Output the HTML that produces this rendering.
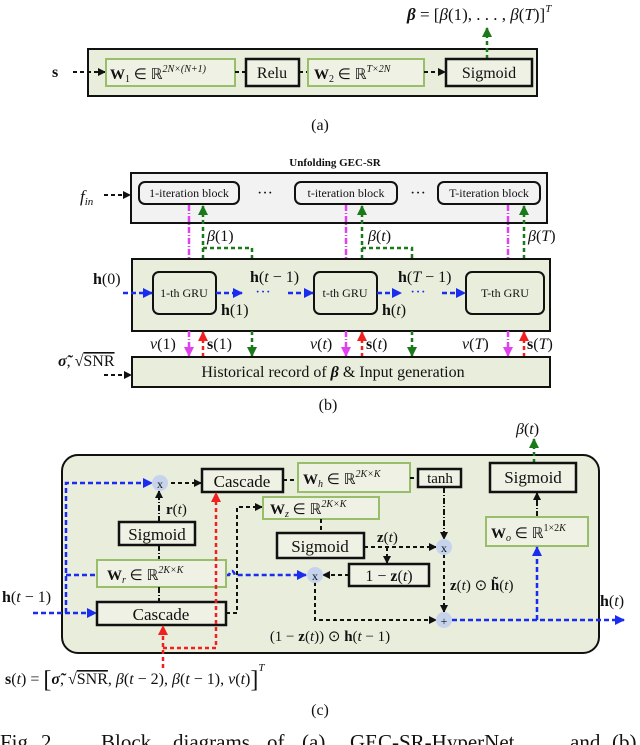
<!DOCTYPE html>
<html><head><meta charset="utf-8"><style>
body{margin:0;background:#fff}
svg{display:block;font-family:"Liberation Serif",serif}
.g{fill:#e9eddc}
.gb{fill:#eef1e3;stroke:#98be6a;stroke-width:2}
.bb{fill:#eef1e3;stroke:#111;stroke-width:2.5}
.k{stroke:#111;stroke-width:2;stroke-dasharray:4 3;fill:none}
.kd{stroke:#111;stroke-width:2;stroke-dasharray:6 2 1 2;fill:none}
.bl{stroke:#1a2cf0;stroke-width:2.5;stroke-dasharray:5 3;fill:none}
.rd{stroke:#f02020;stroke-width:2.5;stroke-dasharray:4 3;fill:none}
.gr{stroke:#1a7a1a;stroke-width:2.5;stroke-dasharray:4 3;fill:none}
.mg{stroke:#e040f0;stroke-width:2.5;stroke-dasharray:6 2 1 2;fill:none}
.c{fill:#c6d3ec}
text{fill:#111}
</style></head><body>
<svg width="640" height="745" viewBox="0 0 640 745">
<defs>
<marker id="ak" markerWidth="8" markerHeight="8" refX="7" refY="4" orient="auto" markerUnits="userSpaceOnUse"><path d="M0,0L8,4L0,8z" fill="#111"/></marker>
<marker id="ab" markerWidth="10" markerHeight="10" refX="9" refY="5" orient="auto" markerUnits="userSpaceOnUse"><path d="M0,0L10,5L0,10z" fill="#1a2cf0"/></marker>
<marker id="ar" markerWidth="10" markerHeight="10" refX="9" refY="5" orient="auto" markerUnits="userSpaceOnUse"><path d="M0,0L10,5L0,10z" fill="#f02020"/></marker>
<marker id="ag" markerWidth="10" markerHeight="10" refX="9" refY="5" orient="auto" markerUnits="userSpaceOnUse"><path d="M0,0L10,5L0,10z" fill="#1a7a1a"/></marker>
<marker id="am" markerWidth="10" markerHeight="10" refX="9" refY="5" orient="auto" markerUnits="userSpaceOnUse"><path d="M0,0L10,5L0,10z" fill="#e040f0"/></marker>
</defs>

<!-- (a) -->
<text x="407" y="20" font-size="17"><tspan font-weight="bold" font-style="italic">β</tspan> = [<tspan font-style="italic">β</tspan>(1), . . . , <tspan font-style="italic">β</tspan>(<tspan font-style="italic">T</tspan>)]<tspan font-size="11" dy="-8" font-style="italic">T</tspan></text>
<rect x="88" y="49" width="449" height="47" class="g" stroke="#111" stroke-width="2"/>
<line x1="487" y1="59" x2="487" y2="28" class="gr" marker-end="url(#ag)"/>
<text x="52" y="77" font-size="16" font-weight="bold">s</text>
<line x1="73" y1="72" x2="105" y2="72" class="k" marker-end="url(#ak)"/>
<rect x="106" y="59" width="129" height="27" class="gb"/>
<text x="110" y="79" font-size="15"><tspan font-weight="bold">W</tspan><tspan font-size="10" dy="3">1</tspan><tspan dy="-3"> ∈ ℝ</tspan><tspan font-size="10" dy="-7" font-style="italic">2N×(N+1)</tspan></text>
<line x1="235" y1="72" x2="246" y2="72" class="k"/>
<rect x="246" y="59" width="53" height="27" class="bb"/>
<text x="272" y="78" font-size="16" text-anchor="middle">Relu</text>
<line x1="299" y1="72" x2="308" y2="72" class="k"/>
<rect x="308" y="59" width="116" height="27" class="gb"/>
<text x="314" y="79" font-size="15"><tspan font-weight="bold">W</tspan><tspan font-size="10" dy="3">2</tspan><tspan dy="-3"> ∈ ℝ</tspan><tspan font-size="10" dy="-7" font-style="italic">T×2N</tspan></text>
<line x1="424" y1="72" x2="445" y2="72" class="k" marker-end="url(#ak)"/>
<rect x="446" y="59" width="86" height="27" class="bb"/>
<text x="489" y="78" font-size="16" text-anchor="middle">Sigmoid</text>
<text x="320" y="130" font-size="16" text-anchor="middle">(a)</text>

<!-- (b) -->
<text x="335" y="166" font-size="11" font-weight="bold" text-anchor="middle">Unfolding GEC-SR</text>
<rect x="131" y="173" width="416" height="50" fill="#f2f2f2" stroke="#111" stroke-width="2"/>
<rect x="139" y="182" width="100" height="22" rx="6" fill="#f2f2f2" stroke="#111" stroke-width="2"/>
<text x="189" y="197" font-size="12" text-anchor="middle">1-iteration block</text>
<rect x="295" y="182" width="102" height="22" rx="6" fill="#f2f2f2" stroke="#111" stroke-width="2"/>
<text x="346" y="197" font-size="12" text-anchor="middle">t-iteration block</text>
<rect x="438" y="182" width="102" height="22" rx="6" fill="#f2f2f2" stroke="#111" stroke-width="2"/>
<text x="489" y="197" font-size="12" text-anchor="middle">T-iteration block</text>
<text x="265" y="198" font-size="16" text-anchor="middle">···</text>
<text x="418" y="198" font-size="16" text-anchor="middle">···</text>
<text x="80" y="202" font-size="17" font-style="italic">f<tspan font-size="11" dy="3">in</tspan></text>
<line x1="104" y1="195" x2="130" y2="195" class="k" marker-end="url(#ak)"/>

<g>
<line x1="189" y1="205" x2="189" y2="259" class="mg"/>
<line x1="346" y1="205" x2="346" y2="259" class="mg"/>
<line x1="508" y1="205" x2="508" y2="259" class="mg"/>
<line x1="203" y1="259" x2="203" y2="206" class="gr" marker-end="url(#ag)"/>
<line x1="362" y1="259" x2="362" y2="206" class="gr" marker-end="url(#ag)"/>
<line x1="524" y1="259" x2="524" y2="206" class="gr" marker-end="url(#ag)"/>
<polyline points="203,248 252,248 252,259" class="gr"/>
<polyline points="362,248 412,248 412,259" class="gr"/>
</g>
<text x="207" y="241" font-size="16"><tspan font-style="italic">β</tspan>(1)</text>
<text x="368" y="241" font-size="16"><tspan font-style="italic">β</tspan>(<tspan font-style="italic">t</tspan>)</text>
<text x="528" y="241" font-size="16"><tspan font-style="italic">β</tspan>(<tspan font-style="italic">T</tspan>)</text>

<rect x="132" y="259" width="418" height="72" class="g" stroke="#111" stroke-width="2"/>
<rect x="153" y="272" width="63" height="42" rx="6" class="g" stroke="#111" stroke-width="2"/>
<text x="184" y="297" font-size="12" text-anchor="middle">1-th GRU</text>
<rect x="314" y="272" width="63" height="42" rx="6" class="g" stroke="#111" stroke-width="2"/>
<text x="345" y="297" font-size="12" text-anchor="middle">t-th GRU</text>
<rect x="466" y="272" width="78" height="42" rx="6" class="g" stroke="#111" stroke-width="2"/>
<text x="505" y="297" font-size="12" text-anchor="middle">T-th GRU</text>
<line x1="123" y1="293" x2="152" y2="293" class="bl" marker-end="url(#ab)"/>
<line x1="216" y1="293" x2="242" y2="293" class="bl" marker-end="url(#ab)"/>
<line x1="288" y1="293" x2="313" y2="293" class="bl" marker-end="url(#ab)"/>
<line x1="377" y1="293" x2="401" y2="293" class="bl" marker-end="url(#ab)"/>
<line x1="442" y1="293" x2="465" y2="293" class="bl" marker-end="url(#ab)"/>
<text x="263" y="297" font-size="16" text-anchor="middle" style="fill:#1a2cf0">···</text>
<text x="418" y="297" font-size="16" text-anchor="middle" style="fill:#1a2cf0">···</text>
<text x="93" y="284" font-size="16"><tspan font-weight="bold">h</tspan>(0)</text>
<text x="250" y="282" font-size="16"><tspan font-weight="bold">h</tspan>(<tspan font-style="italic">t</tspan> − 1)</text>
<text x="398" y="282" font-size="16"><tspan font-weight="bold">h</tspan>(<tspan font-style="italic">T</tspan> − 1)</text>
<text x="221" y="315" font-size="16"><tspan font-weight="bold">h</tspan>(1)</text>
<text x="382" y="315" font-size="16"><tspan font-weight="bold">h</tspan>(<tspan font-style="italic">t</tspan>)</text>

<line x1="189" y1="331" x2="189" y2="356" class="mg" marker-end="url(#am)"/>
<line x1="346" y1="331" x2="346" y2="356" class="mg" marker-end="url(#am)"/>
<line x1="508" y1="331" x2="508" y2="356" class="mg" marker-end="url(#am)"/>
<line x1="203" y1="357" x2="203" y2="332" class="rd" marker-end="url(#ar)"/>
<line x1="362" y1="357" x2="362" y2="332" class="rd" marker-end="url(#ar)"/>
<line x1="524" y1="357" x2="524" y2="332" class="rd" marker-end="url(#ar)"/>
<line x1="252" y1="331" x2="252" y2="356" class="gr" marker-end="url(#ag)"/>
<line x1="412" y1="331" x2="412" y2="356" class="gr" marker-end="url(#ag)"/>
<text x="150" y="349" font-size="16"><tspan font-style="italic">v</tspan>(1)</text>
<text x="310" y="349" font-size="16"><tspan font-style="italic">v</tspan>(<tspan font-style="italic">t</tspan>)</text>
<text x="462" y="349" font-size="16"><tspan font-style="italic">v</tspan>(<tspan font-style="italic">T</tspan>)</text>
<text x="207" y="349" font-size="16"><tspan font-weight="bold">s</tspan>(1)</text>
<text x="366" y="349" font-size="16"><tspan font-weight="bold">s</tspan>(<tspan font-style="italic">t</tspan>)</text>
<text x="527" y="349" font-size="16"><tspan font-weight="bold">s</tspan>(<tspan font-style="italic">T</tspan>)</text>

<rect x="132" y="357" width="418" height="30" class="g" stroke="#111" stroke-width="2"/>
<text x="333" y="377" font-size="16" text-anchor="middle">Historical record of <tspan font-weight="bold" font-style="italic">β</tspan> &amp; Input generation</text>
<text x="58" y="366" font-size="16"><tspan font-weight="bold" font-style="italic">σ̃</tspan>, √<tspan text-decoration="overline">SNR</tspan></text>
<line x1="104" y1="375" x2="131" y2="375" class="k" marker-end="url(#ak)"/>
<text x="328" y="410" font-size="16" text-anchor="middle">(b)</text>

<!-- (c) -->
<rect x="62" y="455" width="537" height="198" rx="16" class="g" stroke="#111" stroke-width="2"/>
<line x1="534" y1="463" x2="534" y2="439" class="gr" marker-end="url(#ag)"/>
<text x="516" y="434" font-size="16"><tspan font-style="italic">β</tspan>(<tspan font-style="italic">t</tspan>)</text>

<text x="2" y="602" font-size="16"><tspan font-weight="bold">h</tspan>(<tspan font-style="italic">t</tspan> − 1)</text>
<line x1="33" y1="613" x2="96" y2="613" class="bl" marker-end="url(#ab)"/>
<polyline points="66,613 66,483 152,483" class="bl" marker-end="url(#ab)"/>
<line x1="66" y1="575" x2="97" y2="575" class="bl"/>
<path d="M226,575 h3 q3,-8 6,0 h6 L306,575" class="bl" marker-end="url(#ab)"/>

<line x1="171" y1="483" x2="201" y2="483" class="k" marker-end="url(#ak)"/>
<rect x="202" y="469" width="81" height="23" class="bb"/>
<text x="242" y="487" font-size="17" text-anchor="middle">Cascade</text>
<line x1="283" y1="480" x2="298" y2="480" class="k"/>
<rect x="298" y="463" width="112" height="29" class="gb"/>
<text x="303" y="484" font-size="15"><tspan font-weight="bold">W</tspan><tspan font-size="10" dy="3" font-style="italic">h</tspan><tspan dy="-3"> ∈ ℝ</tspan><tspan font-size="10" dy="-7" font-style="italic">2K×K</tspan></text>
<line x1="410" y1="478" x2="418" y2="478" class="k"/>
<rect x="418" y="469" width="43" height="18" class="bb"/>
<text x="440" y="483" font-size="15" text-anchor="middle">tanh</text>
<line x1="444" y1="487" x2="444" y2="539" class="kd" marker-end="url(#ak)"/>

<rect x="490" y="463" width="86" height="29" class="bb"/>
<text x="533" y="483" font-size="17" text-anchor="middle">Sigmoid</text>
<line x1="537" y1="517" x2="537" y2="493" class="kd" marker-end="url(#ak)"/>
<rect x="486" y="517" width="102" height="29" class="gb"/>
<text x="491" y="538" font-size="15"><tspan font-weight="bold">W</tspan><tspan font-size="10" dy="3" font-style="italic">o</tspan><tspan dy="-3"> ∈ ℝ</tspan><tspan font-size="10" dy="-7">1×2</tspan><tspan font-size="10" font-style="italic">K</tspan></text>

<line x1="159" y1="522" x2="159" y2="491" class="kd" marker-end="url(#ak)"/>
<text x="166" y="514" font-size="15"><tspan font-weight="bold">r</tspan>(<tspan font-style="italic">t</tspan>)</text>
<rect x="119" y="522" width="76" height="23" class="bb"/>
<text x="157" y="540" font-size="17" text-anchor="middle">Sigmoid</text>
<line x1="159" y1="545" x2="159" y2="560" class="kd"/>
<rect x="97" y="560" width="129" height="27" class="gb"/>
<text x="107" y="580" font-size="15"><tspan font-weight="bold">W</tspan><tspan font-size="10" dy="3" font-style="italic">r</tspan><tspan dy="-3"> ∈ ℝ</tspan><tspan font-size="10" dy="-7" font-style="italic">2K×K</tspan></text>
<line x1="159" y1="587" x2="159" y2="602" class="kd"/>
<rect x="97" y="602" width="129" height="23" class="bb"/>
<text x="161" y="620" font-size="17" text-anchor="middle">Cascade</text>

<line x1="163" y1="668" x2="163" y2="626" class="rd" marker-end="url(#ar)"/>
<polyline points="163,648 216,648 216,493" class="rd" marker-end="url(#ar)"/>

<polyline points="226,613 237,613 237,507 262,507" class="k" marker-end="url(#ak)"/>
<rect x="263" y="497" width="116" height="22" class="gb"/>
<text x="270" y="514" font-size="15"><tspan font-weight="bold">W</tspan><tspan font-size="10" dy="3" font-style="italic">z</tspan><tspan dy="-3"> ∈ ℝ</tspan><tspan font-size="10" dy="-7" font-style="italic">2K×K</tspan></text>
<line x1="321" y1="519" x2="321" y2="533" class="k"/>
<rect x="277" y="533" width="87" height="25" class="bb"/>
<text x="320" y="552" font-size="17" text-anchor="middle">Sigmoid</text>
<line x1="364" y1="547" x2="436" y2="547" class="k" marker-end="url(#ak)"/>
<text x="377" y="542" font-size="15"><tspan font-weight="bold">z</tspan>(<tspan font-style="italic">t</tspan>)</text>
<line x1="387" y1="547" x2="387" y2="563" class="k" marker-end="url(#ak)"/>
<rect x="349" y="564" width="80" height="22" class="bb"/>
<text x="389" y="581" font-size="16" text-anchor="middle">1 − <tspan font-weight="bold">z</tspan>(<tspan font-style="italic">t</tspan>)</text>
<line x1="349" y1="575" x2="323" y2="575" class="k" marker-end="url(#ak)"/>
<polyline points="315,582 315,620 436,620" class="k" marker-end="url(#ak)"/>
<line x1="444" y1="554" x2="444" y2="612" class="k" marker-end="url(#ak)"/>
<text x="450" y="590" font-size="15"><tspan font-weight="bold">z</tspan>(<tspan font-style="italic">t</tspan>) ⊙ <tspan font-weight="bold">h̃</tspan>(<tspan font-style="italic">t</tspan>)</text>
<text x="330" y="641" font-size="15" text-anchor="middle">(1 − <tspan font-weight="bold">z</tspan>(<tspan font-style="italic">t</tspan>)) ⊙ <tspan font-weight="bold">h</tspan>(<tspan font-style="italic">t</tspan> − 1)</text>

<line x1="452" y1="620" x2="624" y2="620" class="bl" marker-end="url(#ab)"/>
<line x1="537" y1="620" x2="537" y2="547" class="bl" marker-end="url(#ab)"/>
<text x="600" y="606" font-size="16"><tspan font-weight="bold">h</tspan>(<tspan font-style="italic">t</tspan>)</text>

<circle cx="160" cy="483" r="8" class="c"/><text x="160" y="488" font-size="12" text-anchor="middle">x</text>
<circle cx="444" cy="547" r="8" class="c"/><text x="444" y="552" font-size="12" text-anchor="middle">x</text>
<circle cx="315" cy="575" r="8" class="c"/><text x="315" y="580" font-size="12" text-anchor="middle">x</text>
<circle cx="444" cy="620" r="8" class="c"/><text x="444" y="625" font-size="12" text-anchor="middle">+</text>

<text x="5" y="684" font-size="16"><tspan font-weight="bold">s</tspan>(<tspan font-style="italic">t</tspan>) = <tspan font-size="24" dy="3">[</tspan><tspan dy="-3" font-weight="bold" font-style="italic">σ̃</tspan>, √<tspan text-decoration="overline">SNR</tspan>, <tspan font-style="italic">β</tspan>(<tspan font-style="italic">t</tspan> − 2), <tspan font-style="italic">β</tspan>(<tspan font-style="italic">t</tspan> − 1), <tspan font-style="italic">v</tspan>(<tspan font-style="italic">t</tspan>)<tspan font-size="24" dy="3">]</tspan><tspan font-size="11" dy="-16" font-style="italic">T</tspan></text>
<text x="320" y="715" font-size="16" text-anchor="middle">(c)</text>
<text y="749" font-size="21"><tspan x="0">Fig.</tspan><tspan x="41">2.</tspan><tspan x="101">Block</tspan><tspan x="173">diagrams</tspan><tspan x="267">of</tspan><tspan x="302">(a)</tspan><tspan x="350">GEC-SR-HyperNet</tspan><tspan x="570">and</tspan><tspan x="612">(b)</tspan></text>
</svg>
</body></html>
